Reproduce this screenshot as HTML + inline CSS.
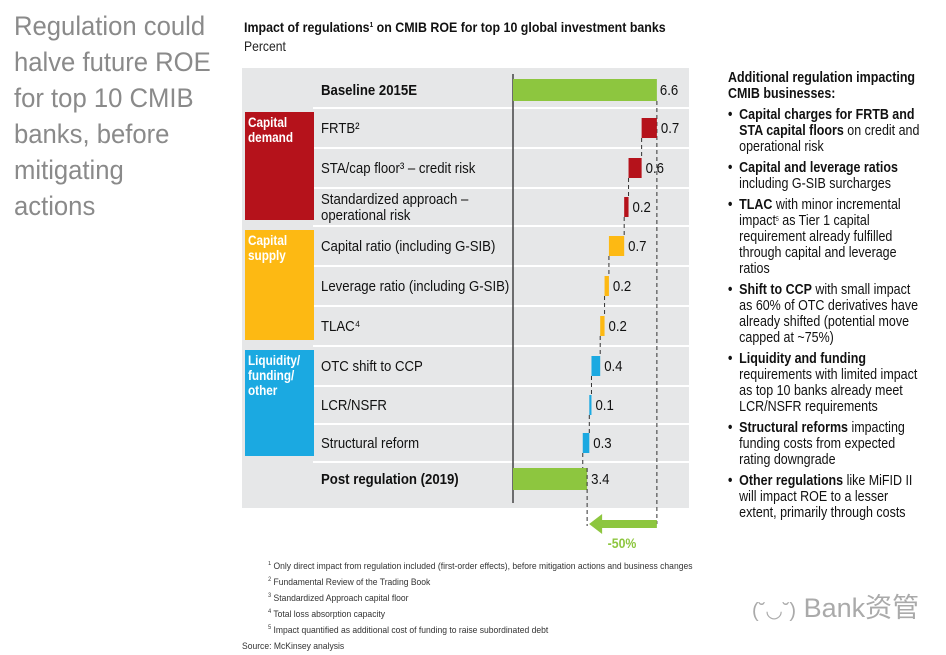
<!DOCTYPE html>
<html><head><meta charset="utf-8"><style>
body{margin:0;background:#fff;width:946px;height:655px;overflow:hidden;position:relative;font-family:"Liberation Sans",sans-serif;}
svg{position:absolute;left:0;top:0}
.t{font-family:"Liberation Sans",sans-serif;}
#title{position:absolute;left:14px;top:8px;font-size:27px;line-height:36px;color:#8a8a8a;white-space:nowrap;transform:scaleX(0.95);transform-origin:0 0}
#side{position:absolute;left:728px;top:70px;font-size:14.5px;line-height:16px;color:#111;white-space:nowrap;transform:scaleX(0.86);transform-origin:0 0}
#side ul{margin:0;padding:0;list-style:none}
#side li{position:relative;padding-left:13px;margin-top:5px}
#side li:before{content:"•";position:absolute;left:0;top:0;font-weight:bold}
#foot{position:absolute;left:242px;top:559px;font-size:9.5px;line-height:16px;color:#333;transform:scaleX(0.9);transform-origin:0 0;white-space:nowrap}
#wm{position:absolute;left:752px;top:586px;font-size:27px;color:#aaa;white-space:nowrap;font-family:"Liberation Sans","Noto Sans CJK SC",sans-serif}
sup{font-size:6px;line-height:0;vertical-align:4px}
</style></head><body>
<div id="title">Regulation could<br>halve future ROE<br>for top 10 CMIB<br>banks, before<br>mitigating<br>actions</div>
<svg width="946" height="655" id="chart">
<text x="244" y="32" class="t" font-size="13.5" font-weight="bold" fill="#111" transform="translate(244,0) scale(0.92,1) translate(-244,0)">Impact of regulations<tspan font-size="7" dy="-5">1</tspan><tspan dy="5"> on CMIB ROE for top 10 global investment banks</tspan></text>
<text x="244" y="51" class="t" font-size="13.5" fill="#222" transform="translate(244,0) scale(0.9,1) translate(-244,0)">Percent</text>
<rect x="242" y="68" width="447" height="440" fill="#e6e7e8"/>
<g id="rows"></g>
<line x1="513" y1="74" x2="513" y2="503" stroke="#444" stroke-width="1.5"/>
<g id="bars"></g>
</svg>
<div id="side">
<b>Additional regulation impacting<br>CMIB businesses:</b>
<ul>
<li><b>Capital charges for FRTB and<br>STA capital floors</b> on credit and<br>operational risk</li>
<li><b>Capital and leverage ratios</b><br>including G-SIB surcharges</li>
<li><b>TLAC</b> with minor incremental<br>impact<sup>5</sup> as Tier 1 capital<br>requirement already fulfilled<br>through capital and leverage<br>ratios</li>
<li><b>Shift to CCP</b> with small impact<br>as 60% of OTC derivatives have<br>already shifted (potential move<br>capped at ~75%)</li>
<li><b>Liquidity and funding</b><br>requirements with limited impact<br>as top 10 banks already meet<br>LCR/NSFR requirements</li>
<li><b>Structural reforms</b> impacting<br>funding costs from expected<br>rating downgrade</li>
<li><b>Other regulations</b> like MiFID II<br>will impact ROE to a lesser<br>extent, primarily through costs</li>
</ul></div>
<div id="foot">
<div style="padding-left:29px"><sup>1</sup> Only direct impact from regulation included (first-order effects), before mitigation actions and business changes</div>
<div style="padding-left:29px"><sup>2</sup> Fundamental Review of the Trading Book</div>
<div style="padding-left:29px"><sup>3</sup> Standardized Approach capital floor</div>
<div style="padding-left:29px"><sup>4</sup> Total loss absorption capacity</div>
<div style="padding-left:29px"><sup>5</sup> Impact quantified as additional cost of funding to raise subordinated debt</div>
<div>Source: McKinsey analysis</div>
</div>
<div id="wm"><span style="font-size:20px">(˘◡˘)</span> Bank资管</div>
<script>
const labels=["Baseline 2015E","FRTB²","STA/cap floor³ – credit risk","Standardized approach –|operational risk","Capital ratio (including G-SIB)","Leverage ratio (including G-SIB)","TLAC⁴","OTC shift to CCP","LCR/NSFR","Structural reform","Post regulation (2019)"];
const values=[6.6,0.7,0.6,0.2,0.7,0.2,0.2,0.4,0.1,0.3,3.4];
const kinds=["total","d","d","d","s","s","s","l","l","l","total"];
const groups=[["Capital","demand"],["Capital","supply"],["Liquidity/","funding/","other"]];
const NS="http://www.w3.org/2000/svg";
const x0=513,scale=21.8;
function xs(v){return x0+v*scale;}
const rowTop=[68,108,148,188,226,266,306,346,386,424,462,508];
const colors={total:"#8dc63f",d:"#b5121b",s:"#fdb913",l:"#1ba9e1"};
function mk(tag,attrs,parent){const e=document.createElementNS(NS,tag);for(const k in attrs)e.setAttribute(k,attrs[k]);parent.appendChild(e);return e;}
function sq(x,s){s=s||0.88;return `translate(${x},0) scale(${s},1) translate(${-x},0)`;}
const rows=document.getElementById('rows'),bars=document.getElementById('bars');
for(let i=1;i<11;i++){const l=mk('line',{x1:313,x2:689,y1:rowTop[i],y2:rowTop[i],stroke:"#fff","stroke-width":2},rows);

}
const gBox=[[112,220,"#b5121b"],[230,340,"#fdb913"],[350,456,"#1ba9e1"]];
gBox.forEach((g,gi)=>{const r=mk('rect',{x:245,y:g[0],width:69,height:g[1]-g[0],fill:g[2]},rows);


groups[gi].forEach((w,j)=>{const t=mk('text',{x:248,y:g[0]+15+j*15,"font-size":14,"font-weight":"bold",fill:"#fff",class:"t",transform:sq(248,0.84)},rows);t.textContent=w;

});});
let cur=values[0];
labels.forEach((lab,i)=>{
 const cy=(rowTop[i]+rowTop[i+1])/2+(i==0?2:0)-(i==10?6:0);
 const parts=lab.split("|");
 parts.forEach((p,j)=>{const t=mk('text',{x:321,y:cy+5+(j-(parts.length-1)/2)*16,"font-size":15,fill:"#111",class:"t","font-weight":kinds[i]=="total"?"bold":"normal",transform:sq(321)},rows);t.textContent=p;
 
 });
 let a,b;
 if(kinds[i]=="total"){a=x0;b=xs(values[i]);}
 else{b=xs(cur);cur-=values[i];a=xs(cur);}
 const h=i==0?22:(i==10?22:20);
 const r=mk('rect',{x:a,y:cy-h/2,width:Math.max(b-a,2),height:h,fill:colors[kinds[i]]},bars);
 
 
 const tx=b+(i==0?3:4);
 const t=mk('text',{x:tx,y:cy+5,"font-size":15,fill:"#111",class:"t",transform:sq(tx)},bars);t.textContent=values[i].toFixed(1);
 
 
 if(i>0&&i<10){const c=mk('line',{x1:a,x2:a,y1:cy+h/2,y2:(rowTop[i+1]+rowTop[i+2])/2-10,stroke:"#333","stroke-dasharray":"4,3"},bars);
 
 }
 if(i==0){const c=mk('line',{x1:b,x2:b,y1:cy+h/2,y2:524,stroke:"#333","stroke-dasharray":"4,3"},bars);
 
 }
 if(i==10){const c=mk('line',{x1:b,x2:b,y1:cy-h/2,y2:526,stroke:"#333","stroke-dasharray":"4,3"},bars);
 
 }
});
const xb=xs(values[0]),xp=xs(values[10]);
const ar=mk('polygon',{points:`${xb},520 ${xp+15},520 ${xp+15},514 ${xp+2},524 ${xp+15},534 ${xp+15},528 ${xb},528`,fill:"#8dc63f"},bars);


const mx=(xb+xp)/2;
const pt=mk('text',{x:mx,y:548,"font-size":14,"font-weight":"bold",fill:"#8dc63f","text-anchor":"middle",class:"t",transform:sq(mx)},bars);
pt.textContent="-50%";


</script>
</body></html>
